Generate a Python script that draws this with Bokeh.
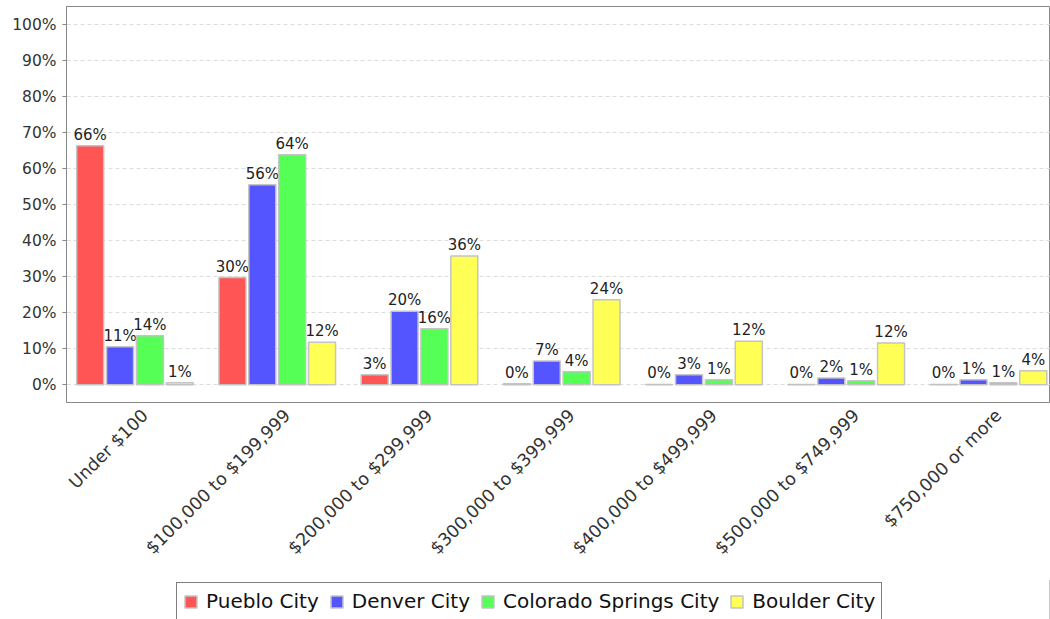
from math import pi
from bokeh.plotting import figure
from bokeh.layouts import column
from bokeh.models import (ColumnDataSource, Range1d, FixedTicker, PrintfTickFormatter,
                          Legend, LegendItem)
from bokeh.transform import dodge
from bokeh.embed import file_html
from bokeh.resources import INLINE
from bokeh.core.properties import value

categories = ["Under $100", "$100,000 to $199,999", "$200,000 to $299,999",
              "$300,000 to $399,999", "$400,000 to $499,999", "$500,000 to $749,999",
              "$750,000 or more"]
series_names = ["Pueblo City", "Denver City", "Colorado Springs City", "Boulder City"]
pueblo = [66.4, 29.8, 2.8, 0.3, 0.1, 0.1, 0.1]
denver = [10.6, 55.6, 20.4, 6.6, 2.8, 1.9, 1.4]
colorado = [13.6, 63.9, 15.6, 3.6, 1.4, 1.1, 0.6]
boulder = [0.6, 11.8, 35.8, 23.6, 12.1, 11.6, 3.9]
y_ticks = [0, 10, 20, 30, 40, 50, 60, 70, 80, 90, 100]

colors = ["#FF5555", "#5555FF", "#55FF55", "#FFFF55"]
series_values = [pueblo, denver, colorado, boulder]
keys = ["s0", "s1", "s2", "s3"]

data = {"x": list(range(len(categories)))}
for k, vals in zip(keys, series_values):
    data[k] = vals
    data[k + "_lbl"] = ["%d%%" % round(v) for v in vals]
source = ColumnDataSource(data)

FONT = "DejaVu Sans"

p = figure(width=1050, frame_width=984, frame_height=396, height=580,
           x_range=Range1d(-0.4815, 6.436), y_range=Range1d(-4.92, 105.08),
           output_backend="svg", toolbar_location=None,
           min_border_top=6, min_border_right=0, min_border_left=66, min_border_bottom=178)

p.background_fill_color = "white"
p.border_fill_color = "white"
p.outline_line_color = "#888888"
p.outline_line_width = 1

offsets = [-0.315, -0.105, 0.105, 0.315]
bar_w = 0.19
renderers = []
for k, off, c in zip(keys, offsets, colors):
    r = p.vbar(x=dodge("x", off), top=k, width=bar_w, bottom=0, source=source,
               fill_color=c, line_color="#C4C4C4", line_width=1.5)
    renderers.append(r)
    p.text(x=dodge("x", off), y=k, text=k + "_lbl", source=source,
           text_align="center", text_baseline="bottom", y_offset=-2,
           text_font=value(FONT), text_font_size="15px", text_color="#222222")

# axes
p.yaxis.ticker = FixedTicker(ticks=y_ticks)
p.yaxis.formatter = PrintfTickFormatter(format="%d%%")
p.yaxis.minor_tick_line_color = None
p.yaxis.major_tick_out = 4
p.yaxis.major_tick_in = 0
p.yaxis.major_tick_line_color = "#888888"
p.yaxis.axis_line_color = "#888888"
p.yaxis.major_label_standoff = 6
p.yaxis.major_label_text_font = FONT
p.yaxis.major_label_text_font_size = "15.5px"
p.yaxis.major_label_text_color = "#333333"

label_shift = 0.07
x_tick_pos = [round(i + label_shift, 2) for i in range(len(categories))]
p.xaxis.ticker = FixedTicker(ticks=x_tick_pos)
p.xaxis.major_label_overrides = {t: c for t, c in zip(x_tick_pos, categories)}
p.xaxis.major_label_orientation = pi / 4
p.xaxis.major_tick_out = 0
p.xaxis.major_tick_in = 0
p.xaxis.minor_tick_line_color = None
p.xaxis.axis_line_color = None
p.xaxis.major_label_standoff = 10
p.xaxis.major_label_text_font = FONT
p.xaxis.major_label_text_font_size = "17.5px"
p.xaxis.major_label_text_color = "#333333"

p.xgrid.grid_line_color = None
p.ygrid.ticker = FixedTicker(ticks=y_ticks)
p.ygrid.grid_line_color = "#DDDDDD"
p.ygrid.grid_line_dash = "4 3"

# legend strip below the chart; its bars lie outside its visible range
lg = figure(width=1050, height=39, x_range=Range1d(-20, -19), y_range=Range1d(0, 1),
            x_axis_location=None, y_axis_location=None,
            output_backend="svg", toolbar_location=None,
            min_border=0, min_border_left=0, min_border_right=0,
            min_border_top=0, min_border_bottom=0)
lg.outline_line_color = None
lg.background_fill_color = "white"
lg.border_fill_color = "white"
lg.xgrid.grid_line_color = None
lg.ygrid.grid_line_color = None
lg_renderers = []
for k, off, c in zip(keys, offsets, colors):
    r = lg.vbar(x=dodge("x", off), top=k, width=bar_w, bottom=0, source=source,
                fill_color=c, line_color="#C4C4C4", line_width=1.5)
    lg_renderers.append(r)

legend = Legend(items=[LegendItem(label=n, renderers=[r]) for n, r in zip(series_names, lg_renderers)],
                orientation="horizontal", location=(110, -1),
                border_line_color="black", border_line_width=1.5,
                background_fill_color="white", background_fill_alpha=1.0,
                label_text_font=FONT, label_text_font_size="20px",
                label_text_color="#111111", label_height=20,
                glyph_width=15, glyph_height=15, padding=6, spacing=10,
                label_standoff=8, margin=0)
lg.add_layout(legend)

layout = column(p, lg, spacing=0)
open("out.html", "w").write(file_html(layout, INLINE))
